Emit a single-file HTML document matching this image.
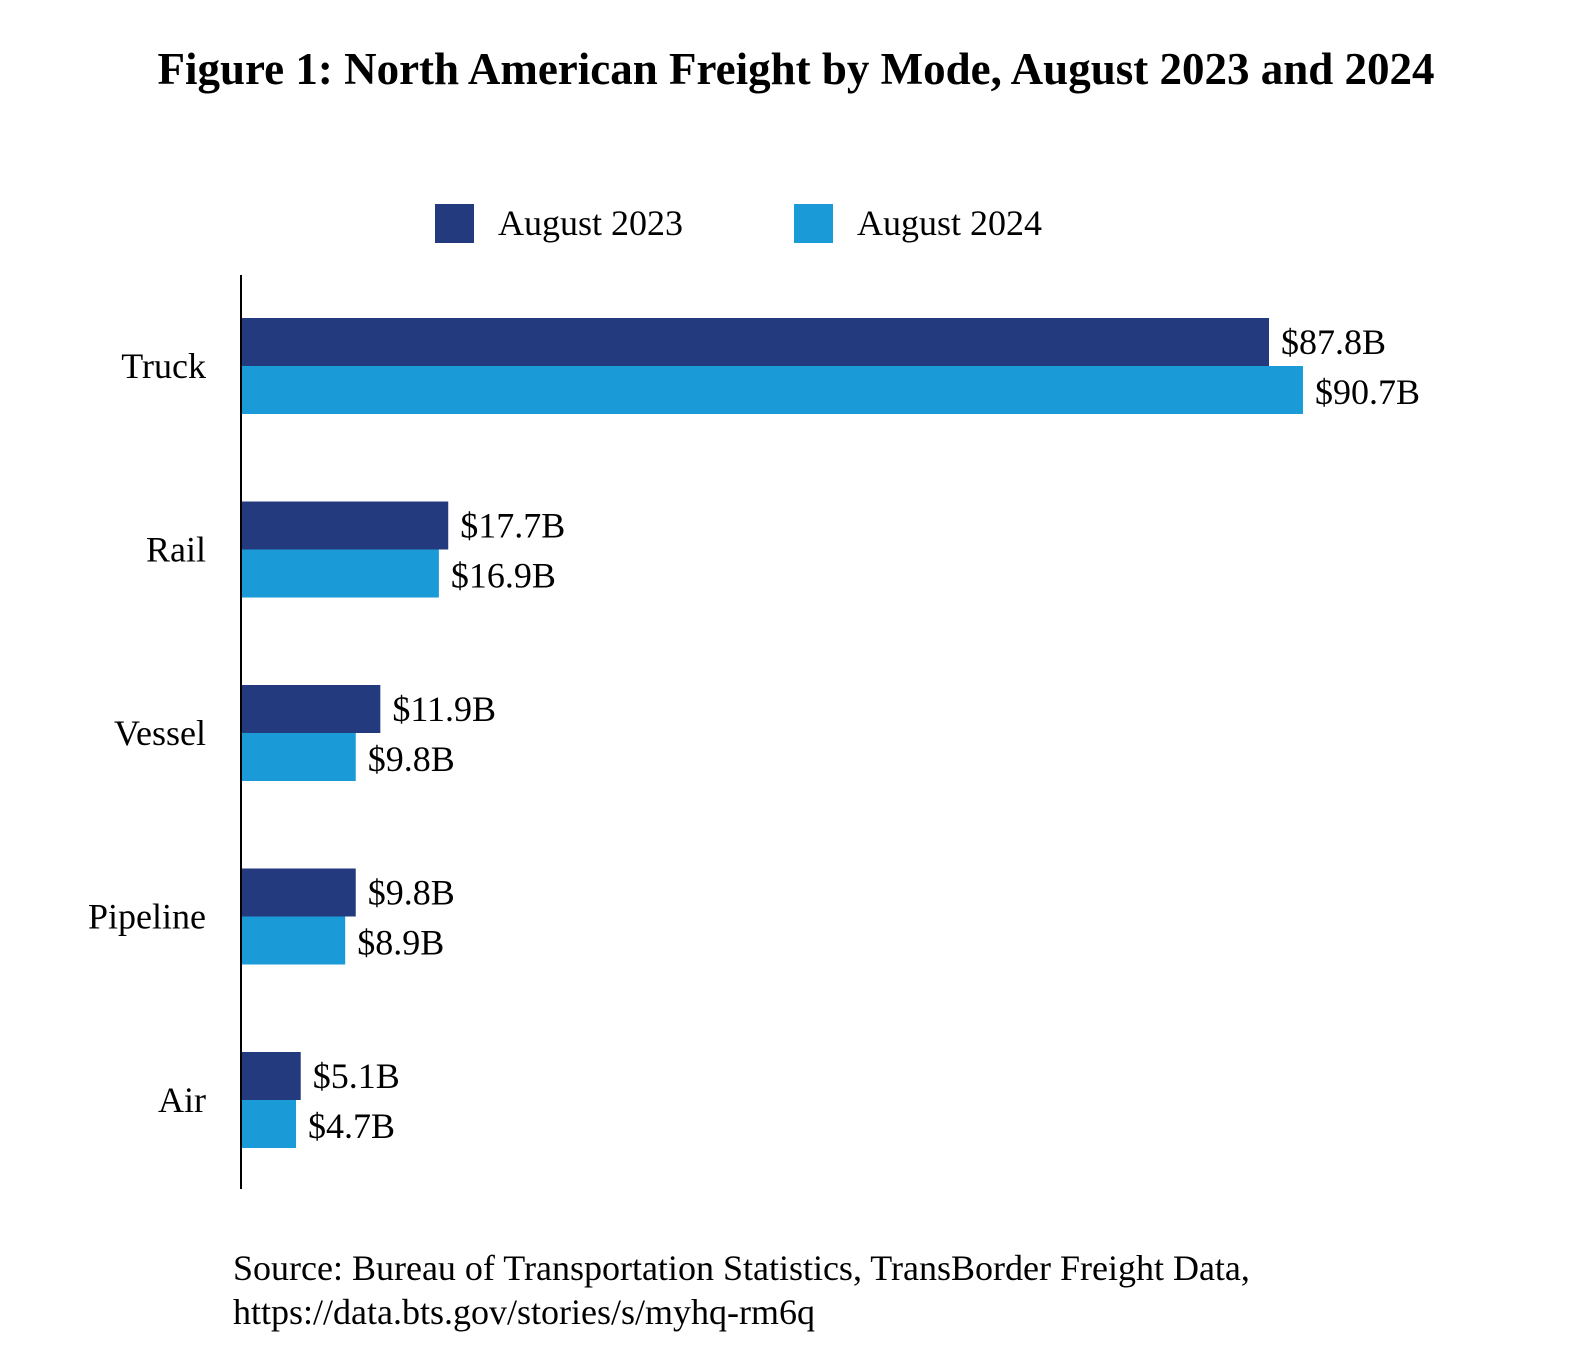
<!DOCTYPE html>
<html><head><meta charset="utf-8"><style>
body{margin:0;background:#fff;}
svg text{font-family:"Liberation Serif",serif;fill:#000;}
</style></head><body>
<svg width="1592" height="1356" xmlns="http://www.w3.org/2000/svg" id="chart">
<text x="796" y="84" text-anchor="middle" font-size="45" font-weight="bold">Figure 1: North American Freight by Mode, August 2023 and 2024</text>
<g>
<rect x="435" y="204" width="39" height="39" fill="#243a7e"/>
<text x="498" y="235" font-size="36">August 2023</text>
<rect x="794" y="204" width="39" height="39" fill="#1a9ad6"/>
<text x="857" y="235" font-size="36">August 2024</text>
</g>
<g id="bars"></g>
<line x1="241" y1="275" x2="241" y2="1189" stroke="#000" stroke-width="2"/>
<text x="233" y="1280" font-size="36">Source: Bureau of Transportation Statistics, TransBorder Freight Data,</text>
<text x="233" y="1324" font-size="36">https://data.bts.gov/stories/s/myhq-rm6q</text>
</svg>
<script>
const categories = ["Truck","Rail","Vessel","Pipeline","Air"];
const values2023 = [87.8,17.7,11.9,9.8,5.1];
const values2024 = [90.7,16.9,9.8,8.9,4.7];
const labels2023 = ["$87.8B","$17.7B","$11.9B","$9.8B","$5.1B"];
const labels2024 = ["$90.7B","$16.9B","$9.8B","$8.9B","$4.7B"];

const NS="http://www.w3.org/2000/svg";
const x0=241, pxPerB=1028/87.8;
const xScale=v=>x0+v*pxPerB;
const groupTop=i=>318+i*183.5;
const barH=48;
const g=document.getElementById('bars');
function mk(tag,attrs){const e=document.createElementNS(NS,tag);for(const k in attrs)e.setAttribute(k,attrs[k]);return e;}
categories.forEach((c,i)=>{
  const t=groupTop(i);
  const r1=mk('rect',{x:x0,y:t,width:xScale(values2023[i])-x0,height:barH,fill:'#243a7e'});
  
  
  g.appendChild(r1);
  const r2=mk('rect',{x:x0,y:t+barH,width:xScale(values2024[i])-x0,height:barH,fill:'#1a9ad6'});
  
  
  g.appendChild(r2);
  const l1=mk('text',{x:xScale(values2023[i])+12,y:t+barH/2+12,'font-size':36});
  l1.textContent=labels2023[i];
  
  
  g.appendChild(l1);
  const l2=mk('text',{x:xScale(values2024[i])+12,y:t+barH*1.5+14,'font-size':36});
  l2.textContent=labels2024[i];
  
  
  g.appendChild(l2);
  const cl=mk('text',{x:206,y:t+barH+12,'font-size':36,'text-anchor':'end'});
  cl.textContent=c;
  
  
  g.appendChild(cl);
});
</script>
</body></html>
